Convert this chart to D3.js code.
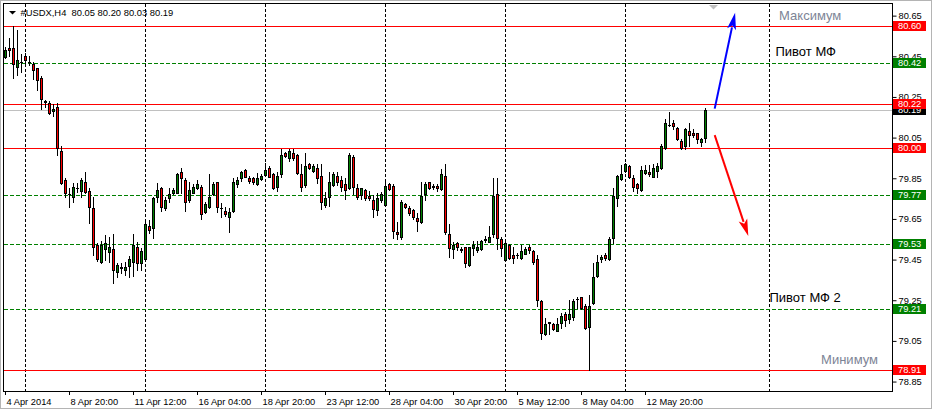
<!DOCTYPE html>
<html><head><meta charset="utf-8">
<script src="https://cdn.jsdelivr.net/npm/d3@7"></script>
<style>html,body{margin:0;padding:0;background:#fff;}svg{display:block;}</style>
</head><body>
<svg id="chart" width="934" height="411"></svg>
<script>
// ---------------- DATA ----------------
const symbolHeader = "#USDX,H4  80.05 80.20 80.03 80.19";
const timeLabels = ["4 Apr 2014","8 Apr 20:00","11 Apr 12:00","16 Apr 04:00","18 Apr 20:00","23 Apr 12:00","28 Apr 04:00","30 Apr 20:00","5 May 12:00","8 May 04:00","12 May 20:00"];
const timeLabelBars = [0,16,32,48,64,80,96,112,128,144,160];
const gridBars = [5,35,65,95,125,155,191];
const priceTicks = [80.65,80.45,80.25,80.05,79.85,79.65,79.45,79.25,79.05,78.85];

const open = [80.451,80.492,80.492,80.401,80.423,80.452,80.425,80.413,80.393,80.344,
80.231,80.221,80.182,80.201,79.985,79.844,79.775,79.762,79.803,79.791,
79.833,79.791,79.705,79.524,79.442,79.503,79.491,79.503,79.393,79.413,
79.401,79.423,79.442,79.513,79.434,79.454,79.618,79.606,79.762,79.803,
79.705,79.754,79.782,79.782,79.885,79.844,79.746,79.782,79.803,79.811,
79.685,79.713,79.773,79.833,79.708,79.693,79.664,79.693,79.823,79.852,
79.893,79.854,79.852,79.823,79.851,79.870,79.901,79.872,79.810,79.872,
79.975,79.954,79.975,79.967,79.872,79.819,79.921,79.890,79.903,79.862,
79.721,79.762,79.819,79.864,79.844,79.823,79.803,79.955,79.803,79.770,
79.793,79.765,79.744,79.695,79.744,79.723,79.823,79.814,79.590,79.562,
79.724,79.705,79.695,79.655,79.636,79.773,79.833,79.812,79.814,79.800,
79.864,79.577,79.503,79.532,79.504,79.513,79.426,79.511,79.500,79.503,
79.553,79.541,79.577,79.775,79.552,79.450,79.524,79.475,79.474,79.462,
79.480,79.514,79.495,79.455,79.249,79.085,79.143,79.134,79.103,79.142,
79.183,79.160,79.172,79.258,79.267,79.226,79.123,79.237,79.373,79.454,
79.475,79.454,79.560,79.757,79.849,79.890,79.913,79.852,79.823,79.793,
79.880,79.885,79.860,79.890,79.901,80.003,80.116,80.126,80.101,80.036,
80.013,80.085,80.077,80.074,80.033,80.05];

const high = [80.500,80.541,80.600,80.582,80.462,80.467,80.452,80.426,80.397,80.356,
80.239,80.233,80.216,80.221,80.013,79.852,79.803,79.828,79.828,79.852,
79.882,79.803,79.762,79.536,79.544,79.573,79.565,79.577,79.434,79.438,
79.442,79.472,79.577,79.541,79.508,79.650,79.647,79.762,79.831,79.811,
79.762,79.806,79.806,79.877,79.905,79.852,79.836,79.823,79.844,79.819,
79.737,79.872,79.836,79.835,79.729,79.710,79.708,79.852,79.860,79.890,
79.898,79.862,79.857,79.877,79.874,79.928,79.911,79.877,79.885,79.996,
79.980,79.996,79.996,79.972,79.921,79.975,79.928,79.924,79.924,79.924,
79.783,79.883,79.885,79.885,79.862,79.852,79.977,79.967,79.823,79.806,
79.800,79.791,79.770,79.778,79.787,79.844,79.828,79.823,79.636,79.746,
79.729,79.714,79.701,79.680,79.836,79.836,79.836,79.823,79.823,79.896,
79.921,79.626,79.541,79.541,79.514,79.516,79.516,79.544,79.544,79.549,
79.570,79.618,79.852,79.852,79.565,79.549,79.529,79.516,79.483,79.524,
79.516,79.524,79.500,79.475,79.254,79.164,79.147,79.139,79.164,79.188,
79.196,79.254,79.257,79.267,79.270,79.232,79.278,79.437,79.475,79.475,
79.483,79.565,79.803,79.869,79.918,79.926,79.918,79.869,79.828,79.914,
79.918,79.918,79.921,79.926,80.019,80.142,80.180,80.139,80.106,80.044,
80.098,80.123,80.093,80.077,80.049,80.20];

const low = [80.442,80.452,80.344,80.360,80.377,80.410,80.410,80.341,80.287,80.192,
80.203,80.169,80.160,79.967,79.823,79.762,79.713,79.737,79.787,79.762,
79.778,79.631,79.475,79.446,79.434,79.450,79.442,79.336,79.369,79.385,
79.377,79.369,79.372,79.401,79.401,79.446,79.582,79.560,79.737,79.693,
79.696,79.734,79.775,79.778,79.778,79.691,79.734,79.778,79.800,79.652,
79.680,79.708,79.770,79.688,79.664,79.669,79.587,79.688,79.811,79.841,
79.857,79.828,79.824,79.819,79.844,79.867,79.857,79.800,79.791,79.860,
79.959,79.939,79.942,79.872,79.791,79.808,79.898,79.882,79.828,79.701,
79.713,79.718,79.816,79.819,79.791,79.751,79.798,79.773,79.749,79.749,
79.747,79.746,79.664,79.672,79.737,79.721,79.795,79.557,79.554,79.554,
79.705,79.672,79.650,79.595,79.631,79.746,79.798,79.800,79.791,79.795,
79.578,79.465,79.462,79.500,79.488,79.414,79.421,79.475,79.491,79.500,
79.541,79.537,79.565,79.503,79.470,79.447,79.454,79.434,79.459,79.454,
79.478,79.483,79.431,79.226,79.062,79.082,79.085,79.106,79.101,79.114,
79.126,79.139,79.155,79.213,79.208,79.111,78.910,79.234,79.368,79.442,
79.450,79.450,79.532,79.716,79.844,79.885,79.852,79.790,79.782,79.790,
79.874,79.864,79.857,79.860,79.898,79.996,80.111,80.093,80.041,79.995,
79.995,80.013,80.057,80.024,80.013,80.03];

const close = [80.485,80.482,80.413,80.434,80.425,80.433,80.423,80.383,80.334,80.241,
80.229,80.172,80.192,80.003,79.831,79.782,79.773,79.811,79.805,79.844,
79.783,79.713,79.513,79.454,79.524,79.532,79.513,79.401,79.426,79.415,
79.414,79.454,79.524,79.434,79.495,79.626,79.598,79.754,79.795,79.713,
79.746,79.775,79.795,79.872,79.852,79.734,79.795,79.811,79.824,79.675,
79.726,79.762,79.823,79.713,79.706,79.675,79.687,79.833,79.844,79.882,
79.860,79.841,79.833,79.852,79.864,79.893,79.860,79.803,79.862,79.967,
79.964,79.987,79.954,79.880,79.811,79.911,79.901,79.911,79.852,79.734,
79.754,79.833,79.872,79.833,79.808,79.793,79.967,79.811,79.762,79.803,
79.754,79.754,79.701,79.754,79.775,79.813,79.801,79.595,79.577,79.734,
79.713,79.683,79.660,79.644,79.765,79.824,79.803,79.810,79.803,79.872,
79.587,79.511,79.524,79.513,79.502,79.434,79.513,79.524,79.516,79.544,
79.551,79.565,79.765,79.560,79.511,79.532,79.462,79.462,79.473,79.495,
79.505,79.500,79.439,79.254,79.093,79.134,79.141,79.111,79.134,79.175,
79.155,79.183,79.249,79.260,79.213,79.114,79.226,79.365,79.442,79.467,
79.462,79.552,79.765,79.864,79.874,79.921,79.860,79.811,79.803,79.893,
79.893,79.872,79.901,79.914,80.013,80.123,80.115,80.111,80.044,80.003,
80.093,80.064,80.064,80.044,80.044,80.19];

const levelPrices = [80.60, 80.42, 80.22, 80.00, 79.77, 79.53, 79.21, 78.91];
const levelKinds  = ["red","green","red","red","green","green","green","red"];
const lastPrice = 80.19;

const annotTexts  = ["Максимум","Пивот МФ","Пивот МФ 2","Минимум"];
const annotBars   = [193.4, 192.5, 191, 203.9];
const annotPrices = [80.631, 80.454, 79.244, 78.939];
const annotKinds  = ["muted","plain","plain","muted"];

const arrowFromBar   = [177.3, 177.3];
const arrowFromPrice = [80.195, 80.065];
const arrowToBar     = [182.4, 185.7];
const arrowToPrice   = [80.667, 79.568];
const arrowKinds     = ["up","down"];

// ---------------- STYLE / LAYOUT ----------------
const W = 934, H = 411;
const plot = {left: 4, top: 4, right: 892, bottom: 391};
const colors = {red:"#ff0000", green:"#008000", bull:"#008000", bear:"#ff0000",
  muted:"#7d8496", plain:"#000000", up:"#0000ff", down:"#ff0000", grid:"#000000", last:"#c0c0c0"};
const axisFont = "Liberation Sans, Arial, sans-serif";

const svg = d3.select("#chart");
svg.append("rect").attr("width", W).attr("height", H).attr("fill", "#fff");
// window frame
svg.append("rect").attr("x",0.5).attr("y",0.5).attr("width",931).attr("height",408)
  .attr("fill","none").attr("stroke","#b4b4b4");

const x = d3.scaleLinear().domain([-0.5, 221.5]).range([plot.left - 0.5, plot.right - 0.5]);
const y = d3.scaleLinear().domain([78.806, 80.7097]).range([plot.bottom, plot.top]);
const ry = v => Math.round(y(v));

const clip = svg.append("defs").append("clipPath").attr("id","pc").append("rect")
  .attr("x", plot.left).attr("y", plot.top).attr("width", plot.right - plot.left).attr("height", plot.bottom - plot.top);
const gPlot = svg.append("g").attr("clip-path","url(#pc)");

// vertical grid
gPlot.selectAll("line.grid").data(gridBars).join("line")
  .attr("x1", d => x(d)).attr("x2", d => x(d))
  .attr("y1", plot.top).attr("y2", plot.bottom)
  .attr("stroke", colors.grid).attr("stroke-width", 1).attr("stroke-dasharray","3,2");

// last price line
gPlot.append("line").attr("x1", plot.left).attr("x2", plot.right)
  .attr("y1", ry(lastPrice)+0.5).attr("y2", ry(lastPrice)+0.5)
  .attr("stroke", colors.last);

// level lines
gPlot.selectAll("line.level").data(levelPrices).join("line")
  .attr("x1", plot.left).attr("x2", plot.right)
  .attr("y1", d => ry(d)+0.5).attr("y2", d => ry(d)+0.5)
  .attr("stroke", (d,i) => colors[levelKinds[i]])
  .attr("stroke-dasharray", (d,i) => levelKinds[i]==="green" ? "4,2" : null);

// candles
const bars = d3.range(open.length).map(i => ({i, o:open[i], h:high[i], l:low[i], c:close[i]}));
gPlot.selectAll("line.wick").data(bars).join("line")
  .attr("x1", d => x(d.i)).attr("x2", d => x(d.i))
  .attr("y1", d => ry(d.h)).attr("y2", d => ry(d.l)+1)
  .attr("stroke","#000");
bars.forEach(d => {
  const top = ry(Math.max(d.o,d.c)), bot = ry(Math.min(d.o,d.c));
  const cx = x(d.i);
  if (bot - top < 1) {
    gPlot.append("line").attr("x1", cx-1.5).attr("x2", cx+1.5)
      .attr("y1", top+0.5).attr("y2", top+0.5).attr("stroke","#000");
  } else {
    gPlot.append("rect").attr("x", cx-1).attr("y", top+0.5)
      .attr("width", 2).attr("height", bot-top)
      .attr("fill", d.c >= d.o ? colors.bull : colors.bear)
      .attr("stroke","#000").attr("stroke-width",1);
  }
});

// arrows
arrowKinds.forEach((k,i) => {
  const x1 = x(arrowFromBar[i]), y1 = y(arrowFromPrice[i]);
  const x2 = x(arrowToBar[i]),   y2 = y(arrowToPrice[i]);
  const dx = x2-x1, dy = y2-y1, len = Math.hypot(dx,dy);
  const ux = dx/len, uy = dy/len, hl = 17, hw = 4.5;
  const bx = x2 - ux*hl, by = y2 - uy*hl;
  gPlot.append("line").attr("x1",x1).attr("y1",y1).attr("x2",bx+ux*2).attr("y2",by+uy*2)
    .attr("stroke", colors[k]).attr("stroke-width",2);
  gPlot.append("path")
    .attr("d", `M${x2},${y2}L${bx - uy*hw},${by + ux*hw}L${bx + ux*4},${by + uy*4}L${bx + uy*hw},${by - ux*hw}Z`)
    .attr("fill", colors[k]);
});

// annotations
gPlot.selectAll("text.annot").data(annotTexts).join("text")
  .attr("x", (d,i) => x(annotBars[i])).attr("y", (d,i) => y(annotPrices[i]))
  .attr("font-family", axisFont).attr("font-size", 13)
  .attr("fill", (d,i) => colors[annotKinds[i]])
  .text(d => d);

// chart shift marker
const sx = x(open.length + 1);
svg.append("path").attr("d", `M${sx-4.5},5L${sx+4.5},5L${sx},9.5Z`).attr("fill","#c0c0c0");

// header
svg.append("path").attr("d","M9,11L16,11L12.5,14.5Z").attr("fill","#000");
svg.append("text").attr("x",20.5).attr("y",16).attr("font-family",axisFont).attr("font-size",9.4)
  .attr("fill","#000").style("white-space","pre").text(symbolHeader);

// plot border
svg.append("rect").attr("x", plot.left-0.5).attr("y", plot.top-0.5)
  .attr("width", plot.right-plot.left+1).attr("height", plot.bottom-plot.top+1)
  .attr("fill","none").attr("stroke","#000");

// right axis
const yAxis = d3.axisRight(y).tickValues(priceTicks).tickSize(4).tickPadding(2).tickFormat(d3.format(".2f"));
const gy = svg.append("g").attr("transform", `translate(${plot.right+0.5},-0.5)`).call(yAxis);
gy.select(".domain").remove();
gy.selectAll("text").attr("font-family", axisFont).attr("font-size", 9.3).attr("fill","#000");
gy.selectAll("line").attr("stroke","#000");

// price label boxes
const boxData = [{p:lastPrice, k:"black"}].concat(levelPrices.map((p,i) => ({p, k:levelKinds[i]})));
const gBox = svg.append("g");
boxData.forEach(b => {
  const yy = ry(b.p);
  gBox.append("rect").attr("x", plot.right+1).attr("y", yy-5).attr("width",33).attr("height",10)
    .attr("fill", b.k==="black" ? "#000" : colors[b.k]);
  gBox.append("text").attr("x", plot.right+6).attr("y", yy).attr("dy","0.35em")
    .attr("font-family", axisFont).attr("font-size", 9.3).attr("fill","#fff")
    .text(d3.format(".2f")(b.p));
});

// bottom axis
const xAxis = d3.axisBottom(x).tickValues(timeLabelBars).tickSize(4).tickPadding(3)
  .tickFormat((d,i) => timeLabels[i]);
const gx = svg.append("g").attr("transform", `translate(-0.5,${plot.bottom})`).call(xAxis);
gx.select(".domain").remove();
gx.selectAll("line").attr("stroke","#000");
gx.selectAll("text").attr("text-anchor","start").attr("dx", 1)
  .attr("font-family", axisFont).attr("font-size", 9.3).attr("fill","#000");
</script>
</body></html>
